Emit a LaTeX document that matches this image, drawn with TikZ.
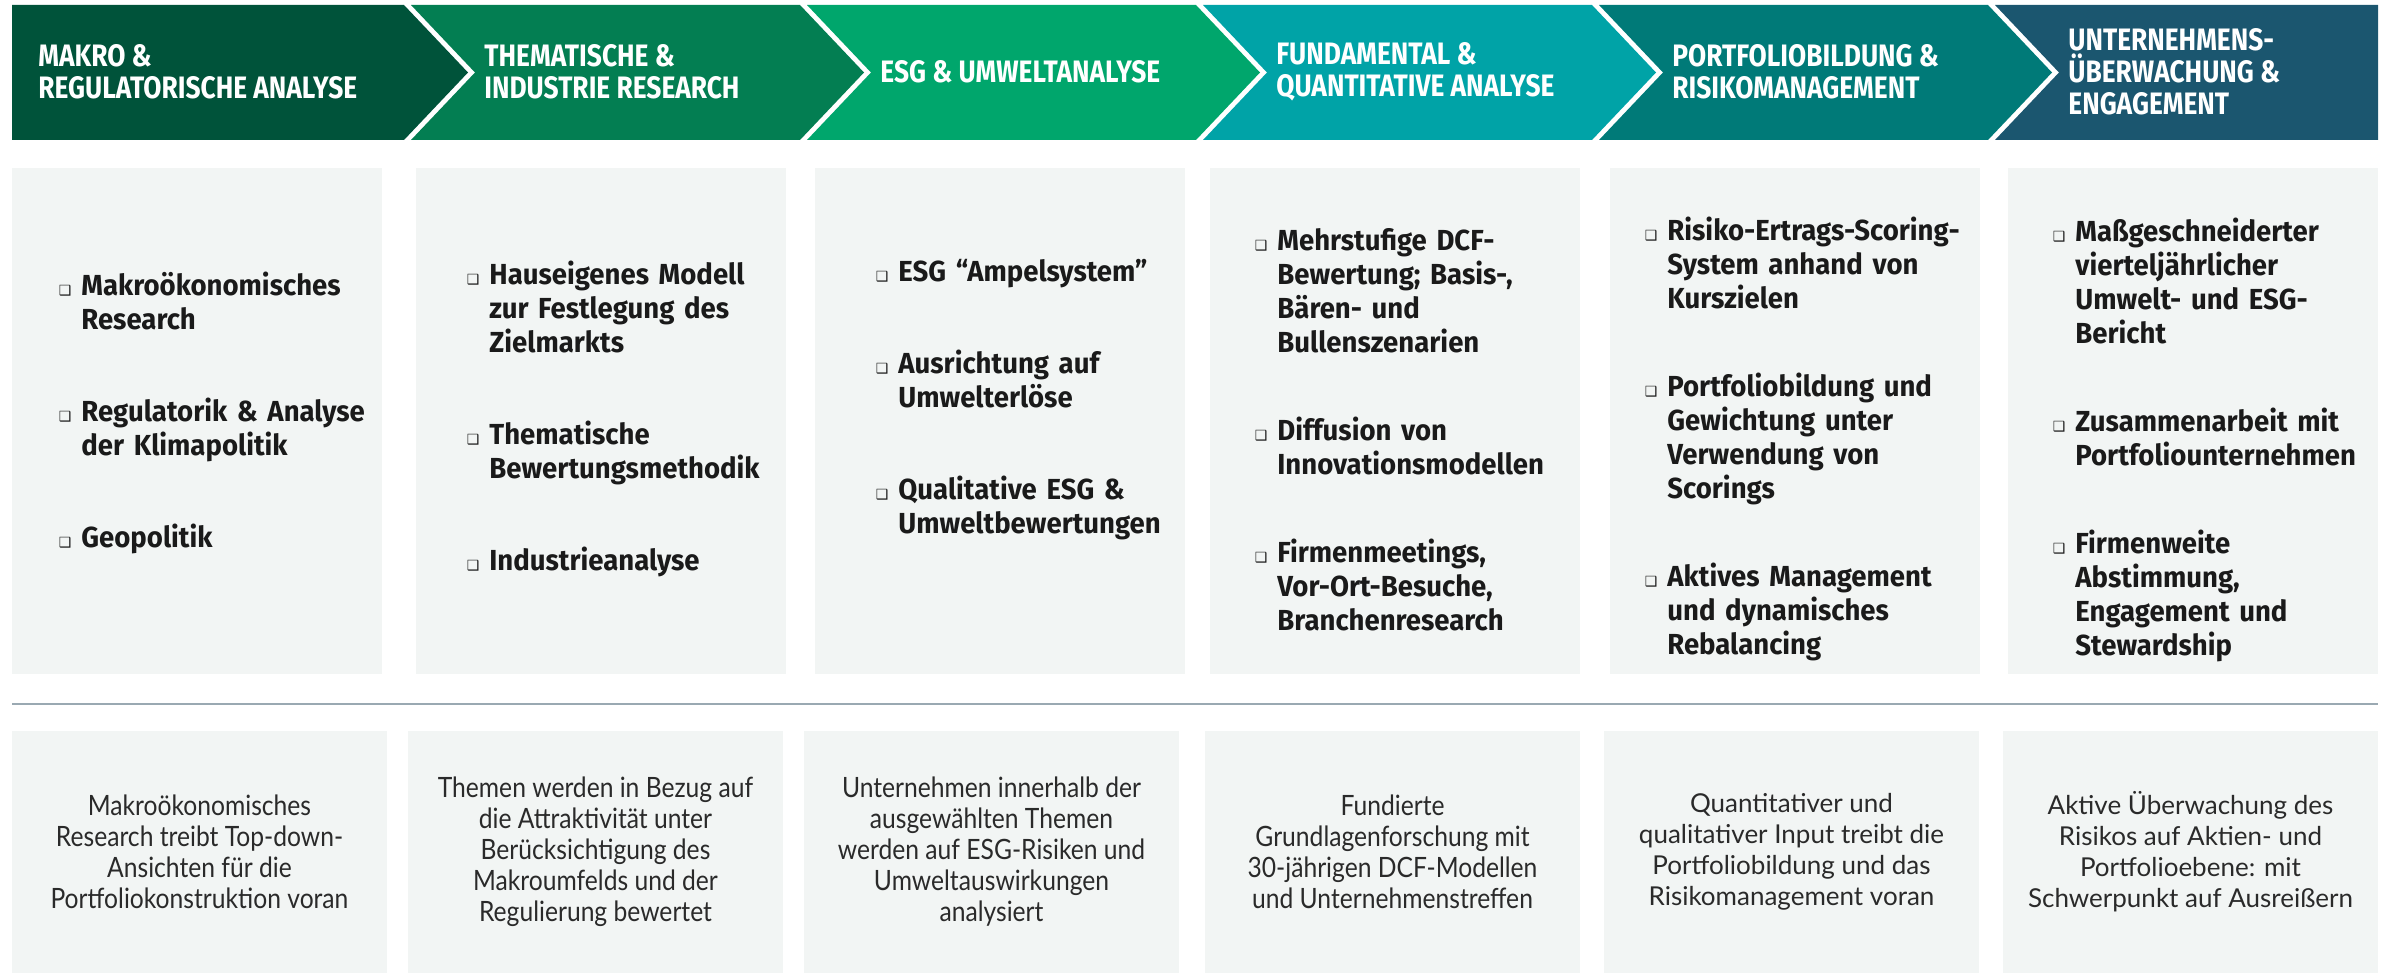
\documentclass[tikz,border=0pt]{standalone}
\usepackage{fontspec}
\setmainfont{Fira Sans}
\newfontfamily\headfont[FakeStretch=0.85]{Fira Sans}
\newfontfamily\itemfont[FakeStretch=0.95]{Fira Sans}
\newfontfamily\notefont[FakeStretch=0.88]{Lato}
\newfontfamily\notewidefont{Lato}
\newfontfamily\bulfont{DejaVu Sans}
\usetikzlibrary{positioning}

\definecolor{hdA}{HTML}{00533A}
\definecolor{hdB}{HTML}{037E52}
\definecolor{hdC}{HTML}{00A66C}
\definecolor{hdD}{HTML}{00A3A7}
\definecolor{hdE}{HTML}{007A78}
\definecolor{hdF}{HTML}{1B566F}
\definecolor{boxgrey}{HTML}{F2F5F4}
\definecolor{rulegrey}{HTML}{9AA9B2}
\definecolor{inktext}{HTML}{1A1A1A}
\definecolor{notetext}{HTML}{2A2A2A}

% bullet list used in the upper boxes, optional arg = gap between items
\newenvironment{steplist}[1][29pt]{\begin{list}{\bulfont\fontsize{7}{7}\selectfont ❑}{%
  \setlength\leftmargin{15pt}\setlength\labelwidth{10pt}\setlength\labelsep{5pt}%
  \setlength\itemsep{#1}\setlength\parsep{0pt}\setlength\topsep{0pt}%
  \setlength\partopsep{0pt}}}{\end{list}}

\begin{document}
\begin{tikzpicture}[
        x=0.5pt, y=-0.5pt,
        headtext/.style={anchor=west, align=left, inner sep=0pt, text=white,
            font=\headfont\bfseries\fontsize{15.5}{16}\selectfont},
        topbox/.style={rectangle, fill=boxgrey, inner sep=0pt,
            minimum width=185pt, minimum height=253pt},
        itemlist/.style={anchor=west, text width=180pt, align=left, inner sep=0pt, text=inktext,
            font=\itemfont\bfseries\fontsize{14.5}{17}\selectfont},
        notebox/.style={rectangle, fill=boxgrey, inner sep=0pt, align=center,
            minimum width=187.5pt, minimum height=121pt, text=notetext,
            font=\notefont\fontsize{14}{15.5}\selectfont},
        notewide/.style={notebox, font=\notewidefont\fontsize{13}{15.5}\selectfont},
        sepline/.style={draw=rulegrey, line width=1.3pt}
    ]
    \useasboundingbox (0,0) rectangle (2389,973);

    % chevron header band
    \fill[hdA] (12,5) -- (404,5) -- (468,72.5) -- (404,140) -- (12,140) -- cycle;
    \fill[hdB] (411,5) -- (800,5) -- (864,72.5) -- (800,140) -- (411,140) -- (475,72.5) -- cycle;
    \fill[hdC] (807,5) -- (1196,5) -- (1260,72.5) -- (1196,140) -- (807,140) -- (871,72.5) -- cycle;
    \fill[hdD] (1203,5) -- (1592,5) -- (1656,72.5) -- (1592,140) -- (1203,140) -- (1267,72.5) -- cycle;
    \fill[hdE] (1599,5) -- (1988,5) -- (2052,72.5) -- (1988,140) -- (1599,140) -- (1663,72.5) -- cycle;
    \fill[hdF] (1995,5) -- (2378,5) -- (2378,140) -- (1995,140) -- (2059,72.5) -- cycle;

    \node[headtext] (h1) at (38,72) {MAKRO \&\\REGULATORISCHE ANALYSE};
    \node[headtext] (h2) at (484,72) {THEMATISCHE \&\\INDUSTRIE RESEARCH};
    \node[headtext] (h3) at (880,72) {ESG \& UMWELTANALYSE};
    \node[headtext] (h4) at (1276,72) {FUNDAMENTAL \&\\QUANTITATIVE ANALYSE};
    \node[headtext] (h5) at (1672,72) {PORTFOLIOBILDUNG \&\\RISIKOMANAGEMENT};
    \node[headtext] (h6) at (2068,72) {UNTERNEHMENS-\\ÜBERWACHUNG \&\\ENGAGEMENT};

    % upper boxes
    \node[topbox] (t1) at (197,421) {};
    \node[topbox] (t2) at (601,421) {};
    \node[topbox] (t3) at (1000,421) {};
    \node[topbox] (t4) at (1395,421) {};
    \node[topbox] (t5) at (1795,421) {};
    \node[topbox] (t6) at (2193,421) {};

    \node[itemlist] (l1) at (51,408) {\begin{steplist}
        \item Makroökonomisches\\Research
        \item Regulatorik \& Analyse\\der Klimapolitik
        \item Geopolitik
    \end{steplist}};
    \node[itemlist] (l2) at (459,414) {\begin{steplist}
        \item Hauseigenes Modell\\zur Festlegung des\\Zielmarkts
        \item Thematische\\Bewertungsmethodik
        \item Industrieanalyse
    \end{steplist}};
    \node[itemlist] (l3) at (868,394) {\begin{steplist}
        \item ESG “Ampelsystem”
        \item Ausrichtung auf\\Umwelterlöse
        \item Qualitative ESG \&\\Umweltbewertungen
    \end{steplist}};
    \node[itemlist] (l4) at (1247,424) {\begin{steplist}[27pt]
        \item Mehrstufige DCF-\\Bewertung; Basis-,\\Bären- und\\Bullenszenarien
        \item Diffusion von\\Innovationsmodellen
        \item Firmenmeetings,\\Vor-Ort-Besuche,\\Branchenresearch
    \end{steplist}};
    \node[itemlist] (l5) at (1637,434) {\begin{steplist}[27pt]
        \item Risiko-Ertrags-Scoring-\\System anhand von\\Kurszielen
        \item Portfoliobildung und\\Gewichtung unter\\Verwendung von\\Scorings
        \item Aktives Management\\und dynamisches\\Rebalancing
    \end{steplist}};
    \node[itemlist] (l6) at (2045,435) {\begin{steplist}[27pt]
        \item Maßgeschneiderter\\vierteljährlicher\\Umwelt- und ESG-\\Bericht
        \item Zusammenarbeit mit\\Portfoliounternehmen
        \item Firmenweite\\Abstimmung,\\Engagement und\\Stewardship
    \end{steplist}};

    % separator
    \coordinate (sepL) at (12,704);
    \coordinate (sepR) at (2378,704);
    \draw[sepline] (sepL) -- (sepR);

    % lower boxes
    \node[notebox] (b1) at (199.5,852) {Makroökonomisches\\Research treibt Top-down-\\Ansichten für die\\Portfoliokonstruktion voran};
    \node[notebox] (b2) at (595.5,852) {Themen werden in Bezug auf\\die Attraktivität unter\\Berücksichtigung des\\Makroumfelds und der\\Regulierung bewertet};
    \node[notebox] (b3) at (991.5,852) {Unternehmen innerhalb der\\ausgewählten Themen\\werden auf ESG-Risiken und\\Umweltauswirkungen\\analysiert};
    \node[notebox] (b4) at (1392.5,852) {Fundierte\\Grundlagenforschung mit\\30-jährigen DCF-Modellen\\und Unternehmenstreffen};
    \node[notewide] (b5) at (1791.5,852) {Quantitativer und\\qualitativer Input treibt die\\Portfoliobildung und das\\Risikomanagement voran};
    \node[notewide] (b6) at (2190.5,852) {Aktive Überwachung des\\Risikos auf Aktien- und\\Portfolioebene: mit\\Schwerpunkt auf Ausreißern};
\end{tikzpicture}
\end{document}
